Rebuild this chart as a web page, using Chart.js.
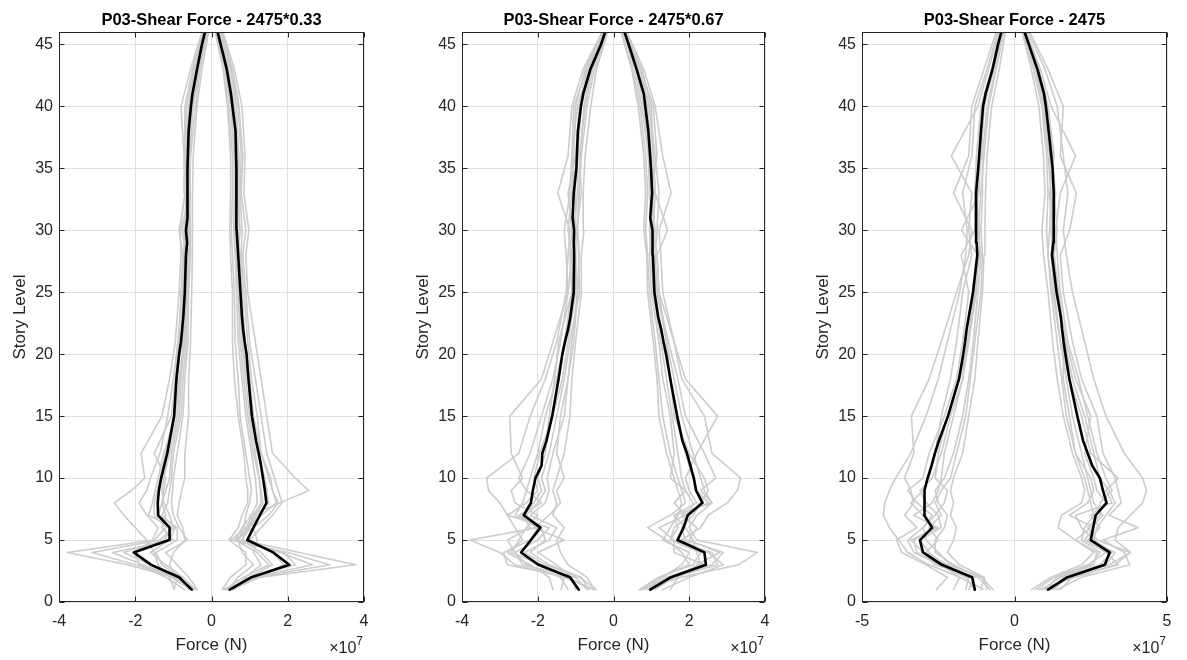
<!DOCTYPE html>
<html>
<head>
<meta charset="utf-8">
<script src="https://cdn.jsdelivr.net/npm/chart.js@4.4.1/dist/chart.umd.min.js"></script>
<style>
  body { margin: 0; background: #fff; width: 1187px; height: 660px; overflow: hidden; position: relative; }
  .panel { position: absolute; top: 0; height: 660px; }
</style>
</head>
<body>
<div class="panel" style="left:0px;width:390px"><canvas id="c1"></canvas></div>
<div class="panel" style="left:403px;width:384px"><canvas id="c2"></canvas></div>
<div class="panel" style="left:803px;width:384px"><canvas id="c3"></canvas></div>
<script>
// story levels for the individual records (grey) and for the mean (black)
const storyGray = [1, 2, 3, 4, 5, 6, 7, 8, 9, 10, 12, 15, 18, 21, 25, 28, 30, 33, 36, 40, 43, 46];
const storyMean = [1, 2, 3, 4, 5, 6, 7, 8, 9, 10, 11, 12, 13, 15, 18, 20, 21, 22, 23, 25, 28, 29, 30, 31, 33, 35, 38, 40, 41, 43, 45, 46];

// [min, max, step] of the force axis, in 1e7 N
const xTicks033 = [-4, 4, 2];
const xTicks067 = [-4, 4, 2];
const xTicks100 = [-5, 5, 5];

// force in units of 1e7 N
const p1GrayNeg = [
  [-0.40,-1.00,-2.20,-3.78,-1.50,-1.20,-1.50,-1.50,-1.42,-1.35,-1.20,-1.00,-0.90,-0.80,-0.75,-0.70,-0.72,-0.65,-0.66,-0.60,-0.45,-0.20],
  [-0.45,-0.90,-2.00,-3.13,-1.35,-1.00,-1.65,-1.55,-1.48,-1.40,-1.25,-0.95,-0.85,-0.72,-0.68,-0.65,-0.78,-0.60,-0.58,-0.50,-0.35,-0.15],
  [-0.50,-0.95,-1.80,-2.60,-1.00,-1.30,-1.20,-1.30,-1.20,-1.10,-1.05,-0.85,-0.80,-0.70,-0.65,-0.60,-0.60,-0.62,-0.60,-0.48,-0.32,-0.12],
  [-0.98,-1.10,-1.40,-1.50,-1.70,-2.00,-2.30,-2.55,-2.10,-1.75,-1.85,-1.30,-1.10,-0.95,-0.85,-0.80,-0.82,-0.70,-0.72,-0.80,-0.55,-0.25],
  [-0.37,-0.60,-0.90,-1.20,-0.63,-0.85,-1.00,-1.05,-1.02,-1.00,-0.90,-0.75,-0.70,-0.62,-0.60,-0.55,-0.55,-0.58,-0.55,-0.42,-0.30,-0.10],
  [-0.60,-0.80,-1.30,-1.46,-0.90,-0.90,-1.40,-1.30,-1.25,-1.20,-1.50,-1.05,-0.95,-0.85,-0.80,-0.72,-0.68,-0.66,-0.70,-0.65,-0.48,-0.22],
  [-0.98,-0.90,-1.10,-1.00,-0.70,-0.75,-0.90,-0.85,-0.78,-0.70,-0.70,-0.60,-0.60,-0.55,-0.52,-0.50,-0.50,-0.50,-0.48,-0.38,-0.25,-0.08],
  [-0.55,-1.05,-1.60,-2.30,-1.25,-1.00,-1.10,-1.25,-1.30,-1.25,-1.10,-0.90,-0.82,-0.75,-0.70,-0.62,-0.64,-0.60,-0.62,-0.55,-0.40,-0.15],
  [-0.70,-1.20,-1.90,-2.00,-1.55,-1.40,-1.70,-1.90,-1.70,-1.60,-1.35,-1.15,-1.00,-0.88,-0.78,-0.76,-0.85,-0.68,-0.70,-0.70,-0.50,-0.22],
  [-0.42,-0.75,-1.20,-1.60,-1.10,-0.95,-1.30,-1.15,-1.10,-1.05,-1.00,-0.80,-0.75,-0.66,-0.62,-0.58,-0.58,-0.55,-0.56,-0.50,-0.36,-0.12]
];
const p1GrayPos = [
  [0.30,1.30,3.78,2.30,0.80,1.00,1.20,1.50,1.45,1.40,1.20,1.05,0.95,0.82,0.75,0.70,0.75,0.68,0.70,0.60,0.45,0.20],
  [0.35,1.20,3.10,2.00,0.50,0.90,1.10,1.30,1.28,1.25,1.10,0.95,0.85,0.75,0.70,0.65,0.60,0.62,0.60,0.52,0.38,0.14],
  [0.50,1.10,2.65,1.80,0.60,1.10,1.50,1.75,1.60,1.50,1.30,1.10,1.00,0.88,0.80,0.75,0.70,0.72,0.72,0.65,0.50,0.22],
  [0.60,0.90,1.30,1.10,1.20,1.10,1.00,1.80,2.55,2.20,1.60,1.45,1.30,1.15,0.95,0.90,0.98,0.85,0.88,0.80,0.60,0.30],
  [0.28,0.50,0.90,0.90,0.46,0.70,0.80,0.95,0.95,0.90,0.85,0.70,0.60,0.55,0.55,0.50,0.48,0.50,0.50,0.42,0.30,0.10],
  [0.40,1.00,1.60,1.30,0.80,0.95,1.30,1.70,1.60,1.55,1.30,1.20,1.05,0.95,0.85,0.78,0.80,0.75,0.78,0.70,0.52,0.25],
  [0.45,0.70,1.10,0.80,0.70,0.85,0.90,1.00,1.05,1.00,0.90,0.75,0.70,0.62,0.60,0.55,0.52,0.55,0.55,0.45,0.32,0.12],
  [0.38,1.05,2.20,1.90,0.70,0.95,1.15,1.35,1.30,1.25,1.15,1.00,0.90,0.80,0.72,0.68,0.62,0.66,0.66,0.58,0.42,0.18],
  [0.55,1.25,1.90,1.60,1.00,1.30,1.60,1.85,1.75,1.65,1.45,1.30,1.15,1.00,0.90,0.82,0.90,0.78,0.82,0.72,0.55,0.28],
  [0.33,0.85,1.50,1.20,0.62,0.80,1.05,1.20,1.18,1.15,1.05,0.90,0.80,0.70,0.66,0.62,0.58,0.60,0.60,0.50,0.36,0.15]
];
const p1MeanNeg = [-0.52,-0.85,-1.58,-2.04,-1.11,-1.10,-1.40,-1.41,-1.38,-1.32,-1.24,-1.16,-1.10,-0.98,-0.92,-0.85,-0.80,-0.77,-0.74,-0.70,-0.67,-0.64,-0.67,-0.63,-0.63,-0.63,-0.60,-0.54,-0.50,-0.38,-0.25,-0.17];
const p1MeanPos = [0.48,1.05,2.04,1.62,0.94,1.10,1.27,1.44,1.40,1.35,1.30,1.24,1.17,1.06,0.97,0.92,0.87,0.83,0.80,0.76,0.70,0.68,0.66,0.66,0.65,0.65,0.63,0.55,0.51,0.40,0.24,0.16];

const p2GrayNeg = [
  [-0.50,-1.30,-2.60,-3.00,-3.79,-2.00,-2.60,-2.40,-2.30,-2.20,-2.00,-1.80,-1.50,-1.30,-1.10,-1.15,-1.10,-1.20,-1.00,-0.90,-0.70,-0.25],
  [-1.60,-1.70,-2.20,-2.80,-2.40,-2.60,-2.80,-3.00,-3.30,-3.35,-2.50,-2.20,-1.80,-1.50,-1.25,-1.20,-1.15,-1.47,-1.20,-1.10,-0.80,-0.30],
  [-0.45,-0.90,-1.80,-2.35,-1.70,-1.50,-2.20,-1.80,-1.70,-1.75,-1.60,-1.30,-1.20,-1.10,-0.95,-0.90,-0.95,-0.90,-0.85,-0.70,-0.50,-0.18],
  [-1.38,-1.30,-1.90,-2.70,-2.50,-2.30,-2.00,-2.60,-2.70,-2.40,-2.70,-2.74,-1.90,-1.60,-1.20,-1.10,-1.20,-1.10,-1.05,-1.00,-0.75,-0.30],
  [-0.50,-0.70,-1.20,-1.40,-1.50,-1.30,-1.60,-1.50,-1.60,-1.50,-1.30,-1.15,-1.10,-1.00,-0.85,-0.85,-0.78,-0.80,-0.75,-0.60,-0.45,-0.15],
  [-0.70,-1.00,-2.40,-2.60,-2.00,-1.70,-2.80,-2.30,-2.00,-2.10,-1.95,-1.60,-1.35,-1.20,-1.00,-1.00,-1.05,-0.95,-0.95,-0.85,-0.60,-0.20],
  [-1.00,-1.10,-1.50,-2.00,-1.30,-2.10,-1.70,-1.40,-1.50,-1.30,-1.50,-1.40,-1.20,-1.05,-0.95,-1.00,-0.98,-0.85,-0.90,-0.75,-0.55,-0.20],
  [-0.55,-1.20,-2.80,-2.90,-2.20,-2.00,-2.50,-1.90,-2.30,-2.50,-2.20,-1.90,-1.60,-1.40,-1.20,-1.25,-1.30,-1.15,-1.10,-1.05,-0.70,-0.28],
  [-1.20,-1.40,-2.30,-2.60,-2.80,-2.20,-2.40,-2.10,-1.90,-2.00,-1.80,-1.70,-1.55,-1.45,-1.10,-1.05,-1.00,-1.00,-1.10,-0.95,-0.65,-0.25],
  [-0.65,-0.85,-1.70,-2.20,-1.80,-1.90,-2.30,-2.00,-1.80,-1.90,-1.70,-1.50,-1.30,-1.15,-0.90,-0.92,-0.95,-0.92,-0.88,-0.78,-0.58,-0.20]
];
const p2GrayPos = [
  [0.70,1.80,3.30,3.80,2.20,2.00,2.20,2.60,2.40,2.30,2.10,1.80,1.60,1.40,1.15,1.10,1.15,1.20,1.10,0.95,0.70,0.35],
  [1.30,2.00,2.90,2.50,1.80,2.30,2.50,3.00,3.27,3.36,2.60,2.40,1.80,1.60,1.30,1.25,1.20,1.52,1.30,1.10,0.80,0.35],
  [0.68,1.20,2.00,1.80,1.40,0.90,1.50,1.90,1.80,1.70,1.50,1.30,1.20,1.10,0.95,0.90,0.85,0.90,0.85,0.70,0.50,0.20],
  [1.00,1.60,2.75,2.60,1.50,1.70,1.60,2.20,2.00,1.90,2.20,2.75,1.90,1.60,1.20,1.15,1.43,1.10,1.05,1.00,0.75,0.30],
  [0.80,1.30,1.80,2.00,1.30,1.50,1.70,1.80,1.70,1.60,1.40,1.20,1.15,1.05,0.90,0.88,0.80,0.85,0.80,0.65,0.48,0.20],
  [1.50,1.70,2.20,2.80,2.00,2.20,1.80,2.50,2.20,2.10,1.90,1.70,1.50,1.30,1.10,1.05,1.00,1.05,1.00,0.90,0.65,0.30],
  [0.90,1.40,2.40,1.60,1.60,1.20,1.90,1.60,1.90,1.50,1.60,1.50,1.30,1.20,1.00,0.95,1.00,0.95,0.92,0.75,0.55,0.25],
  [0.75,1.50,2.60,2.90,1.90,1.80,2.10,2.30,2.50,2.40,2.00,1.60,1.50,1.40,1.20,1.15,1.05,1.10,1.05,0.95,0.70,0.30],
  [1.10,1.60,2.30,2.20,2.10,1.90,1.60,2.60,2.30,2.70,2.40,1.90,1.70,1.45,1.15,1.05,1.10,1.00,1.15,1.05,0.72,0.32],
  [0.72,1.20,2.10,2.30,1.50,1.60,2.00,2.10,1.90,1.80,1.70,1.55,1.40,1.25,1.05,1.00,0.95,1.00,0.95,0.80,0.60,0.25]
];
const p2MeanNeg = [-0.92,-1.15,-1.98,-2.44,-2.18,-1.93,-2.37,-2.18,-2.13,-2.06,-1.90,-1.88,-1.77,-1.62,-1.45,-1.35,-1.28,-1.20,-1.14,-1.05,-1.04,-1.05,-1.04,-1.08,-1.05,-0.98,-0.94,-0.86,-0.80,-0.61,-0.33,-0.22];
const p2MeanPos = [0.97,1.52,2.44,2.40,1.69,1.85,1.96,2.35,2.18,2.12,2.03,1.94,1.82,1.68,1.50,1.39,1.32,1.26,1.18,1.08,1.04,1.03,1.03,0.97,1.02,0.99,0.92,0.84,0.80,0.61,0.40,0.29];

const p3GrayNeg = [
  [-1.00,-1.80,-2.80,-3.50,-3.80,-4.10,-4.30,-4.25,-4.10,-3.90,-3.40,-2.90,-2.50,-2.20,-1.80,-1.60,-1.55,-1.70,-1.40,-1.30,-0.90,-0.55],
  [-2.56,-2.20,-2.90,-3.70,-3.87,-3.20,-3.60,-3.30,-3.40,-3.60,-3.30,-3.38,-2.80,-2.40,-1.90,-1.50,-1.40,-2.00,-1.50,-1.40,-1.00,-0.60],
  [-0.80,-1.20,-2.00,-2.60,-2.60,-2.30,-2.20,-2.50,-2.60,-2.30,-2.00,-1.70,-1.50,-1.35,-1.20,-1.10,-1.20,-1.10,-1.00,-0.85,-0.60,-0.35],
  [-2.00,-1.80,-2.40,-3.30,-3.50,-3.00,-2.70,-3.20,-3.50,-3.00,-2.80,-2.30,-1.90,-1.70,-1.50,-1.75,-1.30,-1.30,-1.25,-1.10,-0.75,-0.45],
  [-0.90,-1.00,-1.80,-2.20,-2.00,-1.90,-2.10,-2.00,-2.10,-2.00,-1.70,-1.50,-1.30,-1.20,-1.05,-1.00,-0.97,-0.95,-0.90,-0.75,-0.50,-0.30],
  [-1.50,-1.30,-2.60,-3.00,-3.40,-2.50,-3.30,-2.70,-2.50,-2.40,-2.30,-2.00,-1.70,-1.50,-1.30,-1.20,-1.25,-1.20,-1.10,-1.00,-0.70,-0.40],
  [-1.10,-1.00,-2.20,-2.90,-2.50,-2.80,-2.40,-2.60,-2.40,-2.10,-1.90,-1.60,-1.45,-1.30,-1.10,-1.05,-1.10,-1.05,-1.05,-0.90,-0.62,-0.38],
  [-1.30,-1.60,-2.50,-3.20,-3.30,-2.60,-3.00,-3.40,-3.00,-2.80,-2.60,-2.40,-2.10,-1.90,-1.70,-1.40,-1.50,-1.40,-2.07,-1.20,-0.85,-0.50],
  [-0.70,-1.10,-2.10,-2.50,-2.90,-3.00,-2.60,-2.30,-2.20,-2.60,-2.50,-2.20,-1.80,-1.50,-1.25,-1.20,-1.74,-1.15,-1.15,-1.05,-0.72,-0.42],
  [-1.60,-1.50,-2.30,-2.80,-3.10,-2.40,-2.50,-2.90,-3.10,-2.70,-2.40,-2.10,-1.70,-1.55,-1.30,-1.15,-1.15,-1.25,-1.10,-1.00,-0.68,-0.40]
];
const p3GrayPos = [
  [0.80,2.00,3.30,3.80,3.30,3.40,3.80,4.20,4.33,4.20,3.60,3.00,2.60,2.30,1.90,1.70,1.60,1.75,1.60,1.40,1.00,0.45],
  [1.40,2.20,3.78,3.60,2.90,4.05,3.10,3.50,3.40,3.30,2.90,2.70,2.20,1.90,1.60,1.50,1.81,2.03,1.50,1.60,1.10,0.50],
  [0.56,1.20,2.20,2.60,2.00,1.43,1.54,2.20,2.30,2.20,1.90,1.60,1.40,1.25,1.10,0.95,0.90,1.00,0.95,0.80,0.55,0.25],
  [1.20,1.80,3.00,3.30,2.40,2.80,2.50,3.00,2.70,2.60,2.30,2.50,2.00,1.70,1.40,1.30,1.40,1.30,1.25,1.10,0.80,0.35],
  [1.00,1.40,2.50,2.80,2.20,2.30,2.60,2.50,2.40,2.30,2.00,1.70,1.55,1.40,1.20,1.10,1.05,1.10,1.05,0.90,0.62,0.28],
  [1.50,1.90,3.40,3.00,2.60,2.20,2.00,3.20,3.00,3.40,2.50,2.20,1.80,1.50,1.30,1.20,1.30,1.20,1.15,0.95,0.70,0.30],
  [0.90,1.50,2.60,2.70,2.00,2.50,2.90,2.60,2.50,2.40,2.20,1.90,1.70,1.50,1.25,1.10,1.15,1.20,1.10,0.95,0.68,0.30],
  [1.30,1.70,3.10,3.80,2.70,2.40,2.80,2.80,3.20,3.00,2.70,2.40,2.10,1.75,1.50,1.40,1.35,1.50,2.00,1.20,0.85,0.40],
  [0.70,1.30,2.40,3.00,2.30,2.60,1.80,2.40,2.60,2.50,2.00,1.80,1.60,1.60,1.40,1.25,1.20,1.35,1.20,1.00,0.72,0.32],
  [1.20,1.60,2.80,3.20,2.60,2.70,3.00,3.30,3.10,2.80,2.60,2.30,1.90,1.65,1.45,1.30,1.25,1.15,1.30,1.10,0.78,0.36]
];
const p3MeanNeg = [-1.30,-1.39,-2.38,-3.00,-3.10,-2.70,-2.96,-2.96,-2.94,-2.85,-2.72,-2.61,-2.48,-2.18,-1.82,-1.68,-1.62,-1.57,-1.50,-1.36,-1.22,-1.24,-1.26,-1.26,-1.26,-1.19,-1.10,-1.03,-0.95,-0.72,-0.54,-0.43];
const p3MeanPos = [1.10,1.74,2.96,3.12,2.50,2.58,2.66,3.02,2.90,2.80,2.55,2.40,2.25,2.06,1.80,1.67,1.61,1.56,1.52,1.38,1.23,1.27,1.29,1.29,1.28,1.25,1.12,1.03,0.97,0.75,0.47,0.33];

const FONT = 'Arial, "Liberation Sans", Helvetica, sans-serif';
const AXIS = '#262626';
Chart.defaults.font.family = FONT;

function pts(xs, ys) {
  return xs.map((v, i) => ({ x: v, y: ys[i] }));
}

// MATLAB style box with inward ticks plus the x10^7 multiplier
const matlabBox = {
  id: 'matlabBox',
  afterDraw(chart) {
    const { ctx, chartArea: a, scales: { x, y } } = chart;
    const L = Math.round(a.left) + 0.5, R = Math.round(a.right) - 0.5;
    const T = Math.round(a.top) + 0.5, B = Math.round(a.bottom) - 0.5;
    const tl = 5;
    ctx.save();
    ctx.strokeStyle = AXIS;
    ctx.lineWidth = 1;
    ctx.strokeRect(L, T, R - L, B - T);
    ctx.beginPath();
    x.ticks.forEach(t => {
      const px = Math.round(x.getPixelForValue(t.value)) + 0.5;
      ctx.moveTo(px, B); ctx.lineTo(px, B - tl);
      ctx.moveTo(px, T); ctx.lineTo(px, T + tl);
    });
    y.ticks.forEach(t => {
      const py = Math.round(y.getPixelForValue(t.value)) + 0.5;
      ctx.moveTo(L, py); ctx.lineTo(L + tl, py);
      ctx.moveTo(R, py); ctx.lineTo(R - tl, py);
    });
    ctx.stroke();
    ctx.fillStyle = AXIS;
    ctx.textAlign = 'right';
    ctx.textBaseline = 'alphabetic';
    ctx.font = '12px ' + FONT;
    ctx.fillText('7', a.right - 1, a.bottom + 43);
    const w7 = ctx.measureText('7').width;
    ctx.font = '16px ' + FONT;
    ctx.fillText('\u00d710', a.right - 1 - w7, a.bottom + 51);
    ctx.restore();
  }
};

function makeChart(id, title, xt, grayNeg, grayPos, meanNeg, meanPos, padRight) {
  const datasets = [];
  grayNeg.concat(grayPos).forEach(row => {
    datasets.push({ data: pts(row, storyGray), borderColor: '#cccccc', borderWidth: 1.6, order: 1 });
  });
  [meanNeg, meanPos].forEach(row => {
    datasets.push({ data: pts(row, storyMean), borderColor: '#000000', borderWidth: 2.6, order: 0 });
  });

  new Chart(document.getElementById(id), {
    type: 'scatter',
    data: { datasets },
    options: {
      responsive: true,
      maintainAspectRatio: false,
      animation: false,
      showLine: true,
      layout: { padding: { left: 0, right: padRight, top: 0, bottom: 0 } },
      elements: { point: { radius: 0 }, line: { tension: 0, borderCapStyle: 'round', borderJoinStyle: 'round' } },
      plugins: {
        legend: { display: false },
        tooltip: { enabled: false },
        title: {
          display: true, text: title, fullSize: false, color: '#000',
          font: { size: 16.5, weight: 'bold' },
          padding: { top: 10.5, bottom: 1.7 }
        }
      },
      scales: {
        x: {
          type: 'linear', min: xt[0], max: xt[1],
          afterFit(s) { s.height = 58; },
          ticks: { stepSize: xt[2], color: AXIS, font: { size: 16 }, padding: 10, maxRotation: 0 },
          grid: { color: '#e0e0e0', drawTicks: false },
          border: { display: false },
          title: { display: true, text: 'Force (N)', color: AXIS, font: { size: 17 }, padding: { top: 0, bottom: 4.8 } }
        },
        y: {
          type: 'linear', min: 0, max: 46,
          afterFit(s) { s.width = 59; },
          ticks: { stepSize: 5, includeBounds: false, color: AXIS, font: { size: 16 }, padding: 6 },
          grid: { color: '#e0e0e0', drawTicks: false },
          border: { display: false },
          title: { display: true, text: 'Story Level', color: AXIS, font: { size: 17 }, padding: { top: 9.8, bottom: 0 } }
        }
      }
    },
    plugins: [matlabBox]
  });
}

makeChart('c1', 'P03-Shear Force - 2475*0.33', xTicks033, p1GrayNeg, p1GrayPos, p1MeanNeg, p1MeanPos, 26);
makeChart('c2', 'P03-Shear Force - 2475*0.67', xTicks067, p2GrayNeg, p2GrayPos, p2MeanNeg, p2MeanPos, 22);
makeChart('c3', 'P03-Shear Force - 2475', xTicks100, p3GrayNeg, p3GrayPos, p3MeanNeg, p3MeanPos, 20);
</script>
</body>
</html>
